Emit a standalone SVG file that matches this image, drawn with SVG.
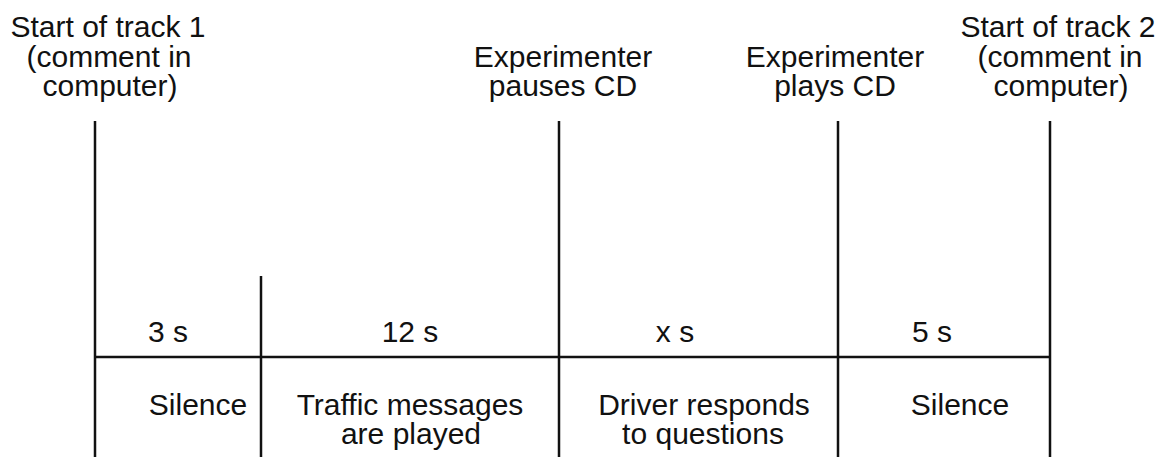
<svg xmlns="http://www.w3.org/2000/svg" width="1165" height="457" viewBox="0 0 1165 457">
<style>
text{font-family:"Liberation Sans",Arial,Helvetica,sans-serif;font-size:30px;fill:#111;text-anchor:middle}
.ln{stroke:#111;stroke-width:2.5;fill:none}
</style>
<rect width="1165" height="457" fill="#fff"/>
<g id="connectors">
<line class="ln" x1="95" y1="121" x2="95" y2="457"/>
<line class="ln" x1="261" y1="276" x2="261" y2="457"/>
<line class="ln" x1="559" y1="121" x2="559" y2="457"/>
<line class="ln" x1="838" y1="121" x2="838" y2="457"/>
<line class="ln" x1="1050" y1="121" x2="1050" y2="457"/>
<line class="ln" x1="95" y1="357" x2="1050" y2="357"/>
</g>
<g id="start1"><text x="108" y="37">Start of track 1</text><text x="109" y="67">(comment in</text><text x="110" y="96">computer)</text></g>
<g id="pause"><text x="563" y="67">Experimenter</text><text x="563" y="96">pauses CD</text></g>
<g id="play"><text x="835" y="67">Experimenter</text><text x="835" y="96">plays CD</text></g>
<g id="start2"><text x="1058" y="37">Start of track 2</text><text x="1060" y="67">(comment in</text><text x="1061" y="96">computer)</text></g>
<g id="seg1"><text x="168" y="342">3 s</text><text x="198" y="415">Silence</text></g>
<g id="seg2"><text x="410" y="342">12 s</text><text x="410" y="415">Traffic messages</text><text x="411" y="444">are played</text></g>
<g id="seg3"><text x="675" y="342">x s</text><text x="704" y="415">Driver responds</text><text x="703" y="444">to questions</text></g>
<g id="seg4"><text x="932" y="342">5 s</text><text x="960" y="415">Silence</text></g>
</svg>
